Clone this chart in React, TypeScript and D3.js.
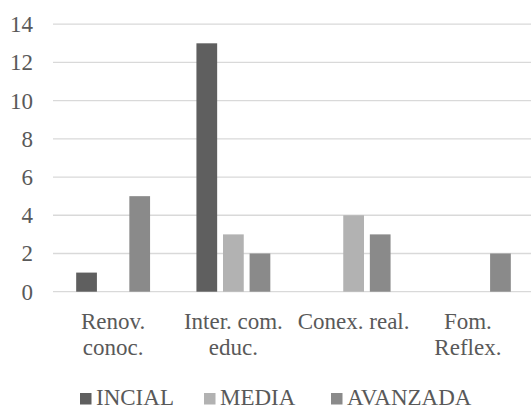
import React from "react";
import * as d3 from "d3";

const categories = ["Renov.\nconoc.", "Inter. com.\neduc.", "Conex. real.", "Fom.\nReflex."];
const seriesNames = ["INCIAL", "MEDIA", "AVANZADA"];
const incial = [1, 13, 0, 0];
const media = [0, 3, 4, 0];
const avanzada = [5, 2, 3, 2];
const yTicks = [0, 2, 4, 6, 8, 10, 12, 14];
const colors = ["#5f5f5f", "#b2b2b2", "#8a8a8a"];

const W = 531;
const H = 409;
const TEXT = "#595959";
const FONT = '"Liberation Serif", "Times New Roman", serif';

export default function App() {
  const seriesValues = [incial, media, avanzada];
  const x0 = d3.scaleBand().domain(categories).range([53, 534]).paddingInner(0).paddingOuter(0);
  const x1 = d3
    .scaleBand()
    .domain(seriesNames)
    .range([0, x0.bandwidth()])
    .paddingInner(0.22)
    .paddingOuter(0.872);
  const y = d3.scaleLinear().domain([0, 14]).range([291.7, 24.2]);

  const legendX = [80, 204, 331];

  return (
    <svg width={W} height={H} style={{ position: "absolute", left: 0, top: 0, fontFamily: FONT }}>
      {yTicks.map((t) => (
        <g key={t}>
          <line x1={53} x2={531} y1={y(t)} y2={y(t)} stroke="#d9d9d9" strokeWidth={1.3} />
          <text
            x={33}
            y={y(t) + 8}
            textAnchor="end"
            style={{ fontFamily: FONT, fontSize: "23px" }}
            fill={TEXT}
          >
            {String(t)}
          </text>
        </g>
      ))}
      {categories.map((c, ci) =>
        seriesNames.map((s, si) => {
          const v = seriesValues[si][ci];
          if (!v) return null;
          return (
            <rect
              key={c + s}
              x={(x0(c) as number) + (x1(s) as number)}
              y={y(v)}
              width={x1.bandwidth()}
              height={y(0) - y(v)}
              fill={colors[si]}
            />
          );
        })
      )}
      {categories.map((c, ci) => {
        const cx = (x0(c) as number) + x0.bandwidth() / 2 + (ci === categories.length - 1 ? -6 : 0);
        return c.split("\n").map((l, li) => (
          <text
            key={c + li}
            x={cx}
            y={329 + li * 26}
            textAnchor="middle"
            style={{ fontFamily: FONT, fontSize: "23px" }}
            fill={TEXT}
          >
            {l}
          </text>
        ));
      })}
      {seriesNames.map((s, si) => (
        <g key={s}>
          <rect x={legendX[si]} y={393} width={11.5} height={11.5} fill={colors[si]} />
          <text
            x={legendX[si] + 16}
            y={405}
            style={{ fontFamily: FONT, fontSize: "23px" }}
            fill={TEXT}
          >
            {s}
          </text>
        </g>
      ))}
    </svg>
  );
}
